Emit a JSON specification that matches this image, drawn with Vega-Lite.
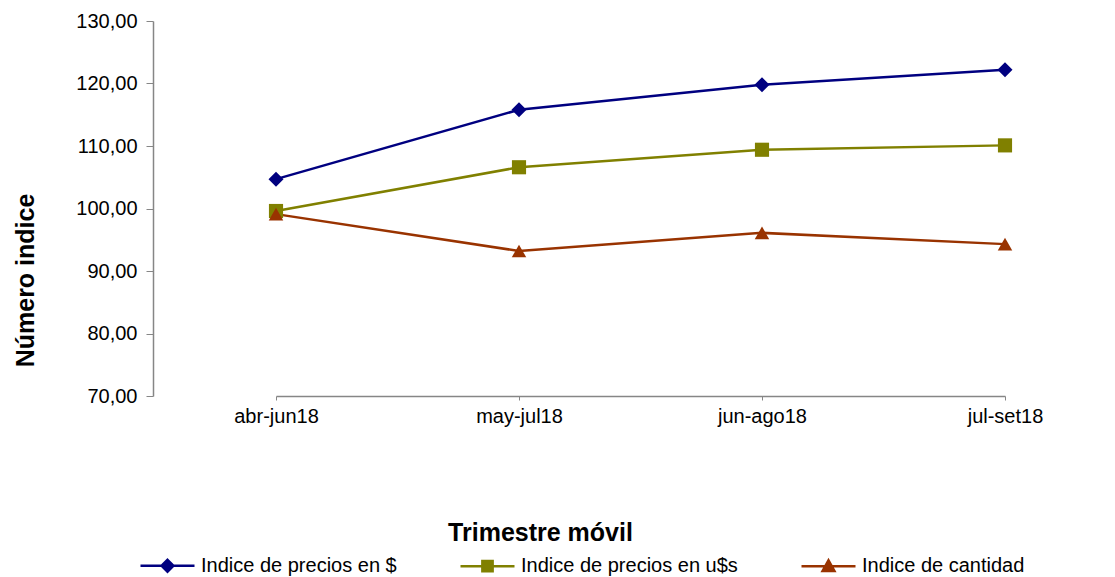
{
  "$schema": "https://vega.github.io/schema/vega-lite/v6.json",
  "width": 962,
  "height": 375,
  "autosize": {"type": "none"},
  "padding": {"left": 153, "top": 21, "right": 0, "bottom": 181},
  "background": "white",
  "config": {
    "view": {"stroke": null},
    "font": "Liberation Sans",
    "axis": {"labelFont": "Liberation Sans", "titleFont": "Liberation Sans", "labelColor": "#000000", "titleColor": "#000000"}
  },
  "data": {
    "values": [
      {"trimestre": "abr-jun18", "serie": "Indice de precios en $", "valor": 104.7},
      {"trimestre": "may-jul18", "serie": "Indice de precios en $", "valor": 115.8},
      {"trimestre": "jun-ago18", "serie": "Indice de precios en $", "valor": 119.8},
      {"trimestre": "jul-set18", "serie": "Indice de precios en $", "valor": 122.2},
      {"trimestre": "abr-jun18", "serie": "Indice de precios en u$s", "valor": 99.6},
      {"trimestre": "may-jul18", "serie": "Indice de precios en u$s", "valor": 106.6},
      {"trimestre": "jun-ago18", "serie": "Indice de precios en u$s", "valor": 109.4},
      {"trimestre": "jul-set18", "serie": "Indice de precios en u$s", "valor": 110.1},
      {"trimestre": "abr-jun18", "serie": "Indice de cantidad", "valor": 99.1},
      {"trimestre": "may-jul18", "serie": "Indice de cantidad", "valor": 93.2},
      {"trimestre": "jun-ago18", "serie": "Indice de cantidad", "valor": 96.1},
      {"trimestre": "jul-set18", "serie": "Indice de cantidad", "valor": 94.3}
    ]
  },
  "encoding": {
    "x": {
      "field": "trimestre",
      "type": "ordinal",
      "sort": ["abr-jun18", "may-jul18", "jun-ago18", "jul-set18"],
      "scale": {"type": "point", "range": [123, 852], "padding": 0},
      "axis": {
        "title": "Trimestre móvil",
        "titleFontSize": 25,
        "titleFontWeight": "bold",
        "titleX": 387,
        "titleY": 144,
        "titleAlign": "center",
        "titleBaseline": "alphabetic",
        "labelFontSize": 20,
        "labelAngle": 0,
        "labelPadding": 6,
        "tickSize": 4,
        "tickColor": "#868686",
        "domainColor": "#868686",
        "domainWidth": 1.5,
        "grid": false
      }
    },
    "y": {
      "field": "valor",
      "type": "quantitative",
      "scale": {"domain": [70, 130], "nice": false, "zero": false},
      "axis": {
        "title": "Número indice",
        "titleFontSize": 25,
        "titleFontWeight": "bold",
        "titleAngle": -90,
        "titleX": -120,
        "titleY": 259,
        "titleAlign": "center",
        "titleBaseline": "alphabetic",
        "values": [70, 80, 90, 100, 110, 120, 130],
        "labelExpr": "replace(format(datum.value, '.2f'), '.', ',')",
        "labelFontSize": 20,
        "labelPadding": 9,
        "tickSize": 7,
        "tickColor": "#868686",
        "domainColor": "#868686",
        "domainWidth": 1.5,
        "grid": false
      }
    },
    "color": {
      "field": "serie",
      "type": "nominal",
      "sort": ["Indice de precios en $", "Indice de precios en u$s", "Indice de cantidad"],
      "scale": {
        "domain": ["Indice de precios en $", "Indice de precios en u$s", "Indice de cantidad"],
        "range": ["#000080", "#808000", "#993300"]
      },
      "legend": {
        "title": null,
        "orient": "none",
        "legendX": -14,
        "legendY": 516,
        "direction": "horizontal",
        "columns": 3,
        "padding": 0,
        "columnPadding": 58,
        "labelFontSize": 20,
        "labelFont": "Liberation Sans",
        "labelColor": "#000000",
        "labelLimit": 400,
        "labelOffset": 5,
        "symbolSize": 2916,
        "symbolStrokeWidth": 2.5,
        "encode": {
          "symbols": {
            "update": {
              "shape": {"signal": "datum.value === 'Indice de precios en $' ? 'M-1,0H1M0,-0.22L0.22,0L0,0.22L-0.22,0Z' : (datum.value === 'Indice de precios en u$s' ? 'M-1,0H1M-0.19,-0.19H0.19V0.19H-0.19Z' : 'M-1,0H1M0,-0.22L0.22,0.18L-0.22,0.18Z')"},
              "fill": {"scale": "color", "field": "value"},
              "stroke": {"scale": "color", "field": "value"},
              "strokeWidth": {"value": 2.5},
              "size": {"value": 2916},
              "opacity": {"value": 1}
            }
          }
        }
      }
    }
  },
  "layer": [
    {"mark": {"type": "line", "strokeWidth": 2.5}},
    {
      "transform": [{"filter": "datum.serie === 'Indice de precios en $'"}],
      "mark": {"type": "point", "filled": true, "opacity": 1, "shape": "diamond", "size": 225}
    },
    {
      "transform": [{"filter": "datum.serie === 'Indice de precios en u$s'"}],
      "mark": {"type": "point", "filled": true, "opacity": 1, "shape": "square", "size": 200}
    },
    {
      "transform": [{"filter": "datum.serie === 'Indice de cantidad'"}],
      "mark": {"type": "point", "filled": true, "opacity": 1, "shape": "triangle-up", "size": 210}
    }
  ]
}
